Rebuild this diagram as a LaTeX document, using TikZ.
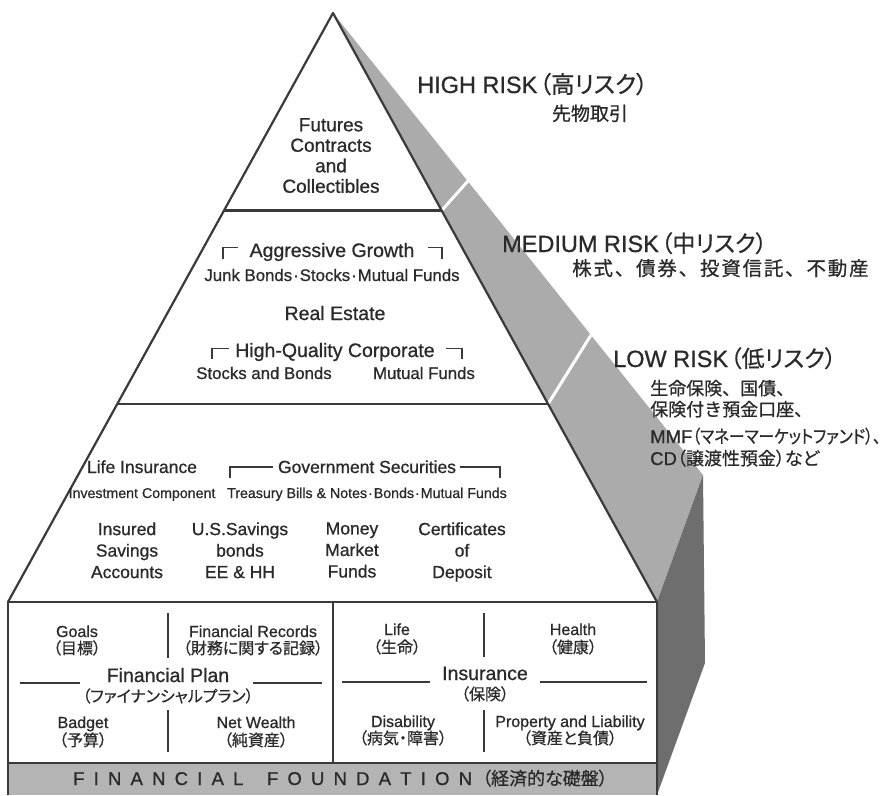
\documentclass[tikz,border=0pt]{standalone}
\usepackage{fontspec}
\setmainfont[FakeBold=0.8]{Liberation Sans}
\newfontfamily\jp[FakeBold=0.6]{Noto Sans CJK JP}
\newfontfamily\jpp[RawFeature=+palt, FakeBold=0.6]{Noto Sans CJK JP}
\newfontfamily\jpc[RawFeature=+palt, FakeStretch=0.87, FakeBold=0.6]{Noto Sans CJK JP}
\usetikzlibrary{calc}
\newcommand\setfs[1]{\fontsize{#1pt}{#1pt}\selectfont}
\newcommand\mdot{\hspace{1pt}·\hspace{1pt}}
\newcommand\fsp{\hspace{9.2pt}}
\newcommand\lsp{\hspace{1.8pt}}
\definecolor{lc}{HTML}{3A3A3A}
\definecolor{tc}{HTML}{2A2A2A}
\definecolor{lightface}{HTML}{ABABAB}
\definecolor{darkface}{HTML}{6E6E6E}
\definecolor{found}{HTML}{B4B4B4}
\begin{document}
\begin{tikzpicture}[x=1pt,y=-1pt,
  txt/.style={inner sep=0pt, text=tc},
  tone/.style={txt, align=center, font=\fontsize{19}{20.5}\selectfont, anchor=north},
  ttwomain/.style={txt, font=\setfs{19.5}, anchor=base},
  ttwosub/.style={txt, font=\setfs{16.8}, anchor=base},
  tthrmain/.style={txt, font=\setfs{17.5}, anchor=base},
  tthrsub/.style={txt, font=\setfs{14.2}, anchor=base},
  tthrcol/.style={txt, align=center, font=\fontsize{17.5}{21.5}\selectfont, anchor=north},
  boxlat/.style={txt, font=\setfs{16}, anchor=base},
  boxjp/.style={txt, font=\jpp\setfs{16}, anchor=base},
  boxtitle/.style={txt, font=\setfs{19.5}, anchor=base},
  risk/.style={txt, font=\setfs{23.5}, anchor=base west},
  riskjp/.style={txt, font=\jp\setfs{18}, anchor=base west},
  edgeline/.style={draw=lc, line width=2.2pt, line join=round},
  thinline/.style={draw=lc, line width=1.3pt},
  brk/.style={draw=lc, line width=1.2pt}]
\useasboundingbox (0,0) rectangle (894,795);
\fill[white] (0,0) rectangle (894,795);

\coordinate (apex) at (333,13);
\coordinate (bl) at (8,602);
\coordinate (br) at (657,602);
\coordinate (sidetop) at (703,475);
\coordinate (sidebot) at (705,663);
\coordinate (boxbr) at (657,795);

% side faces
\fill[lightface] (apex) -- (sidetop) -- (br) -- cycle;
\fill[darkface] (br) -- (sidetop) -- (sidebot) -- (boxbr) -- cycle;
\draw[white, line width=3pt] ($(apex)!0.3353!(br)$) -- (468,181);
\draw[white, line width=3pt] ($(apex)!0.6638!(br)$) -- (591,335);

% front pyramid
\fill[white] (apex) -- (bl) -- (br) -- cycle;
\draw[edgeline] (bl) -- (apex) -- (br);
\draw[edgeline] ($(apex)!0.3353!(bl)$) -- ($(apex)!0.3353!(br)$);
\draw[edgeline] ($(apex)!0.6638!(bl)$) -- ($(apex)!0.6638!(br)$);

% base box
\fill[white] (8,602) rectangle (657,763);
\fill[found] (8,763) rectangle (657,795);
\draw[edgeline] (8,795) -- (bl) -- (br) -- (boxbr);
\draw[edgeline] (8,763) -- (657,763);
\draw[edgeline] (333,602) -- (333,763);

% tier 1
\node[tone] (fut) at (331,118) {Futures\\Contracts\\and\\Collectibles};

% tier 2
\node[ttwomain] (ag) at (332,257) {Aggressive Growth};
\draw[brk] (223,259) -- (223,247.5) -- (238,247.5);
\draw[brk] (428,247.5) -- (442,247.5) -- (442,259);
\node[ttwosub] (junk) at (332,281) {Junk Bonds\mdot Stocks\mdot Mutual Funds};
\node[ttwomain] (re) at (335,320) {Real Estate};
\node[ttwomain] (hqc) at (335,357) {High-Quality Corporate};
\draw[brk] (212,359) -- (212,348.5) -- (229,348.5);
\draw[brk] (446,348.5) -- (462,348.5) -- (462,359);
\node[ttwosub] (sb) at (264,379) {Stocks and Bonds};
\node[ttwosub] (mf) at (424,379) {Mutual Funds};

% tier 3
\node[tthrmain] (li) at (142,473) {Life Insurance};
\node[tthrsub] (ic) at (142,498) {Investment Component};
\node[tthrmain] (gs) at (367,473) {Government Securities};
\draw[brk] (230,478) -- (230,467) -- (273,467);
\draw[brk] (460,467) -- (500,467) -- (500,478);
\node[tthrsub] (tb) at (367,498) {Treasury Bills \& Notes\mdot Bonds\mdot Mutual Funds};
\node[tthrcol] (isa) at (127,522.2) {Insured\\Savings\\Accounts};
\node[tthrcol] (usb) at (240,522.2) {U.S.Savings\\bonds\\EE \& HH};
\node[tthrcol] (mmf) at (352,522.2) {Money\\Market\\Funds};
\node[tthrcol] (cod) at (462,522.2) {Certificates\\of\\Deposit};

% box left: financial plan
\draw[thinline] (168,613) -- (168,658);
\draw[thinline] (168,710) -- (168,752);
\draw[thinline] (20,683) -- (80,683);
\draw[thinline] (253,683) -- (322,683);
\node[boxlat] (goals) at (77,637) {Goals};
\node[boxjp] (goalsj) at (77,654) {（目標）};
\node[boxlat] (frec) at (253,637) {Financial Records};
\node[boxjp] (frecj) at (253,654) {（財務に関する記録）};
\node[boxtitle] (fplan) at (168,682) {Financial Plan};
\node[boxjp] (fplanj) at (168,702) {（ファイナンシャルプラン）};
\node[boxlat] (badget) at (83,728) {Badget};
\node[boxjp] (badgetj) at (83,746) {（予算）};
\node[boxlat] (netw) at (256,728) {Net Wealth};
\node[boxjp] (netwj) at (256,746) {（純資産）};

% box right: insurance
\draw[thinline] (484,613) -- (484,657);
\draw[thinline] (484,710) -- (484,752);
\draw[thinline] (342,682) -- (430,682);
\draw[thinline] (540,682) -- (647,682);
\node[boxlat] (life) at (397,635) {Life};
\node[boxjp] (lifej) at (397,653) {（生命）};
\node[boxlat] (health) at (573,635) {Health};
\node[boxjp] (healthj) at (573,653) {（健康）};
\node[boxtitle] (ins) at (485,680) {Insurance};
\node[boxjp] (insj) at (485,700) {（保険）};
\node[boxlat] (dis) at (403,727) {Disability};
\node[boxjp] (disj) at (403,744) {（病気・障害）};
\node[boxlat] (pl) at (570,727) {Property and Liability};
\node[boxjp] (plj) at (570,744) {（資産と負債）};

% foundation
\node[txt, font=\setfs{18.5}, anchor=base west] (fnd) at (73,785)
  {F\fsp I\fsp N\fsp A\fsp N\fsp C\fsp I\fsp A\fsp L\fsp\ \fsp F\fsp O\fsp U\fsp N\fsp D\fsp A\fsp T\fsp I\fsp O\fsp N\hspace{10pt}{\jpp\setfs{18}（経済的な礎盤）}};

% risk labels
\node[risk] (high) at (417,93) {HIGH RISK\hspace{2pt}{\jpp\setfs{23.5}（高リスク）}};
\node[txt, font=\jp\setfs{19}, anchor=base] (highj) at (590,120.5) {先物取引};
\node[risk] (med) at (502,252) {MEDIUM RISK\hspace{2pt}{\jpp\setfs{23}（中リスク）}};
\node[txt, font=\jp\setfs{19.5}, anchor=base west] (medj) at (572,275.5)
  {株\lsp 式\lsp 、\lsp 債\lsp 券\lsp 、\lsp 投\lsp 資\lsp 信\lsp 託\lsp 、\lsp 不\lsp 動\lsp 産};
\node[risk] (low) at (613,367) {LOW RISK\hspace{2pt}{\jpp\setfs{23}（低リスク）}};
\node[riskjp] (low1) at (650,395) {生命保険、国債、};
\node[riskjp] (low2) at (650,416) {保険付き預金口座、};
\node[riskjp] (low3) at (650,443) {{\rmfamily\setfs{18.5}MMF}{\jpc（マネーマーケットファンド）、}};
\node[riskjp] (low4) at (650,465) {{\rmfamily\setfs{18.5}CD}{\jpp（譲渡性預金）など}};
\end{tikzpicture}
\end{document}
